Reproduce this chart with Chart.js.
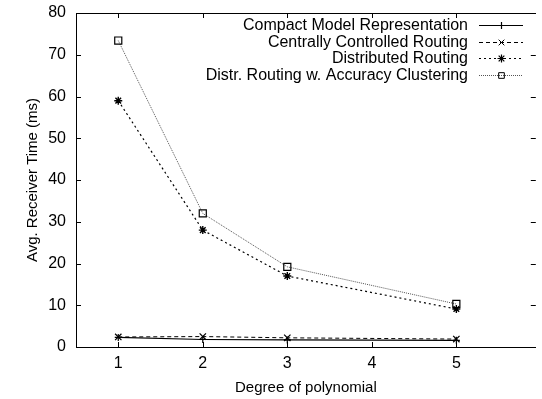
<!DOCTYPE html>
<html>
<head>
<meta charset="utf-8">
<script src="https://cdn.jsdelivr.net/npm/chart.js@4/dist/chart.umd.min.js"></script>
<style>
  html, body { margin: 0; padding: 0; background: #fff; }
  #wrap { width: 542px; height: 399px; }
</style>
</head>
<body>
<div id="wrap"><canvas id="lineChart"></canvas></div>
<script>
// degrés du polynôme (axe x)
const degrees = [1, 2, 3, 5];
const xTicks = [1, 2, 3, 4, 5];
const yTicks = [0, 10, 20, 30, 40, 50, 60, 70, 80];

// temps de réception moyen (ms)
const compactModel = [2.3, 1.8, 1.7, 1.6];
const centralRouting = [2.4, 2.5, 2.2, 1.9];
const distributedRouting = [59.0, 28.0, 17.0, 9.1];
const accuracyClustering = [73.4, 32.0, 19.2, 10.3];

const seriesNames = [
  'Compact Model Representation',
  'Centrally Controlled Routing',
  'Distributed Routing',
  'Distr. Routing w. Accuracy Clustering'
];

const FONT = 'Liberation Sans, Arial, sans-serif';
const X_MIN = 0.5, X_MAX = 5.94;

function points(values) {
  return degrees.map((d, i) => ({ x: d, y: values[i] }));
}

const data = {
  datasets: [
    {
      label: seriesNames[0],
      data: points(compactModel),
      borderColor: '#000',
      borderWidth: 1.2,
      pointStyle: 'cross',
      pointRadius: 3.5,
      pointBorderColor: '#000',
      pointBorderWidth: 1.2
    },
    {
      label: seriesNames[1],
      data: points(centralRouting),
      borderColor: '#000',
      borderWidth: 1,
      borderDash: [4, 3],
      pointStyle: 'crossRot',
      pointRadius: 4.5,
      pointBorderColor: '#000',
      pointBorderWidth: 1.2
    },
    {
      label: seriesNames[2],
      data: points(distributedRouting),
      borderColor: '#000',
      borderWidth: 1.2,
      borderDash: [2, 3],
      pointStyle: 'star',
      pointRadius: 4,
      pointBorderColor: '#000',
      pointBorderWidth: 1.4
    },
    {
      label: seriesNames[3],
      data: points(accuracyClustering),
      borderColor: '#555',
      borderWidth: 1,
      borderDash: [1, 1],
      pointStyle: 'rect',
      pointRadius: 5,
      pointBackgroundColor: 'rgba(0,0,0,0)',
      pointBorderColor: '#000',
      pointBorderWidth: 1.2
    }
  ]
};

// légende façon gnuplot : texte aligné à droite, échantillon à droite
const gnuplotLegend = {
  id: 'gnuplotLegend',
  afterDraw(chart) {
    const ctx = chart.ctx;
    const textRight = 468;
    const x0 = 479, x1 = 523;
    ctx.save();
    ctx.font = '16px ' + FONT;
    ctx.textAlign = 'right';
    ctx.textBaseline = 'middle';
    chart.data.datasets.forEach((ds, i) => {
      const y = Math.round(25 + i * 16.5) + 0.5;
      ctx.fillStyle = '#000';
      ctx.fillText(ds.label, textRight, y);
      ctx.strokeStyle = ds.borderColor;
      ctx.lineWidth = ds.borderWidth;
      ctx.setLineDash(ds.borderDash || []);
      ctx.beginPath();
      ctx.moveTo(x0, y);
      ctx.lineTo(x1, y);
      ctx.stroke();
      ctx.setLineDash([]);
      ctx.strokeStyle = '#000';
      ctx.fillStyle = ds.pointBackgroundColor || '#000';
      Chart.helpers.drawPoint(ctx, {
        pointStyle: ds.pointStyle,
        radius: Math.min(ds.pointRadius, 4),
        borderWidth: ds.pointBorderWidth
      }, (x0 + x1) / 2 + 0.5, y);
    });
    ctx.restore();
  }
};

// petites graduations vers l'intérieur, sur les quatre côtés
const innerTicks = {
  id: 'innerTicks',
  afterDraw(chart) {
    const ctx = chart.ctx;
    const a = chart.chartArea;
    const len = 5;
    ctx.save();
    ctx.strokeStyle = '#000';
    ctx.lineWidth = 1;
    ctx.beginPath();
    xTicks.forEach(v => {
      const px = Math.round(chart.scales.x.getPixelForValue(v)) + 0.5;
      ctx.moveTo(px, a.bottom);
      ctx.lineTo(px, a.bottom - len);
      ctx.moveTo(px, a.top);
      ctx.lineTo(px, a.top + len);
    });
    yTicks.forEach(v => {
      const py = Math.round(chart.scales.y.getPixelForValue(v)) + 0.5;
      ctx.moveTo(a.left, py);
      ctx.lineTo(a.left + len, py);
      ctx.moveTo(a.right, py);
      ctx.lineTo(a.right - len, py);
    });
    ctx.stroke();
    ctx.restore();
  }
};

const noGrid = { drawOnChartArea: false, drawTicks: false };
const border = { display: true, color: '#000', width: 1 };

function fixX(h) {
  return s => { s.height = h; s.paddingLeft = 0; s.paddingRight = 0; };
}
function fixY(w) {
  return s => { s.width = w; s.paddingTop = 0; s.paddingBottom = 0; };
}

const config = {
  type: 'line',
  data: data,
  options: {
    responsive: false,
    animation: false,
    layout: { padding: { left: 20, right: 0, top: 13, bottom: 2 } },
    plugins: {
      legend: { display: false },
      tooltip: { enabled: false }
    },
    scales: {
      x: {
        type: 'linear',
        min: X_MIN,
        max: X_MAX,
        afterBuildTicks: s => { s.ticks = xTicks.map(v => ({ value: v })); },
        afterFit: fixX(50),
        grid: noGrid,
        border: border,
        ticks: { color: '#000', font: { family: FONT, size: 16 }, padding: 7 },
        title: {
          display: true,
          text: 'Degree of polynomial',
          color: '#000',
          font: { family: FONT, size: 15 },
          padding: { top: 0, bottom: 0 }
        }
      },
      x2: {
        type: 'linear',
        position: 'top',
        min: X_MIN,
        max: X_MAX,
        afterFit: fixX(0),
        grid: noGrid,
        border: border,
        ticks: { display: false }
      },
      y: {
        min: 0,
        max: 80,
        afterBuildTicks: s => { s.ticks = yTicks.map(v => ({ value: v })); },
        afterFit: fixY(56),
        grid: noGrid,
        border: border,
        ticks: { color: '#000', font: { family: FONT, size: 16 }, padding: 10 },
        title: {
          display: true,
          text: 'Avg. Receiver Time (ms)',
          color: '#000',
          font: { family: FONT, size: 15 },
          padding: { top: 4, bottom: 0 }
        }
      },
      y2: {
        position: 'right',
        min: 0,
        max: 80,
        afterFit: fixY(0),
        grid: noGrid,
        border: { display: false },
        ticks: { display: false }
      }
    }
  },
  plugins: [innerTicks, gnuplotLegend]
};

const canvas = document.getElementById('lineChart');
canvas.width = 542;
canvas.height = 399;
const myChart = new Chart(canvas.getContext('2d'), config);
</script>
</body>
</html>
